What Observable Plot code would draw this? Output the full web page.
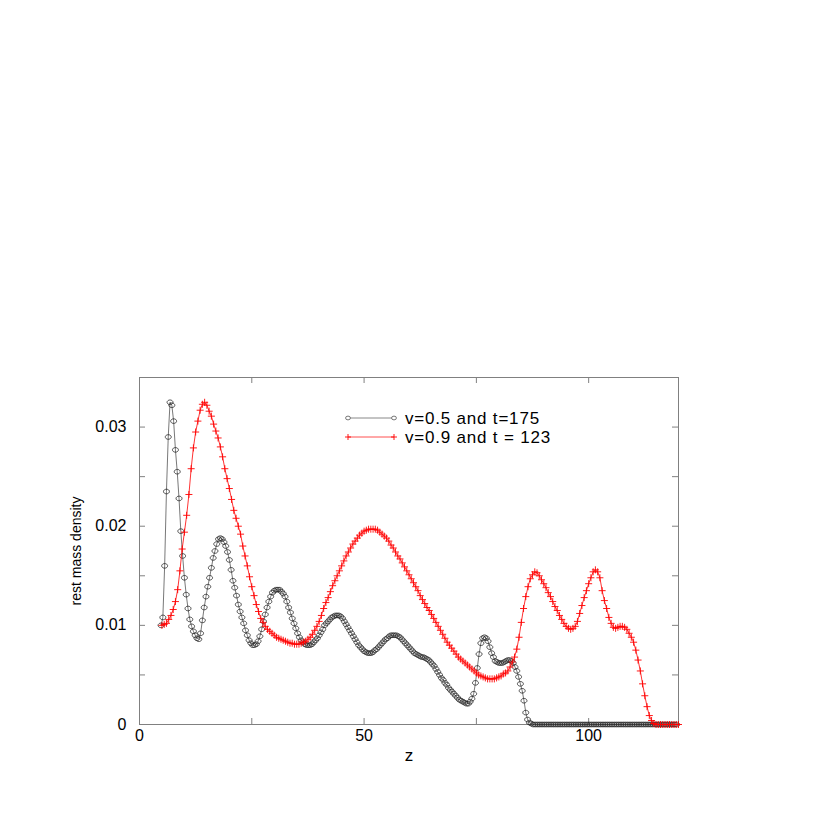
<!DOCTYPE html>
<html><head><meta charset="utf-8">
<script src="https://cdn.jsdelivr.net/npm/d3@7"></script>
<script src="https://cdn.jsdelivr.net/npm/@observablehq/plot@0.6"></script>
<style>body{margin:0;background:#fff}</style>
</head><body><div id="chart"></div>
<script>
// Series A: v=0.5, t=175  (sampled from z = 4.8 in steps of 0.4)
const zStartA = 4.8, zStepA = 0.4;
const rhoA = [
 .0100,.0108,.0160,.0235,.0290,.0325,.0322,.0306,.0277,.0255,
 .0228,.0195,.0170,.0148,.0131,.0117,.0106,.0099,.0094,.0090,
 .0087,.0086,.0092,.0105,.0118,.0129,.0139,.0148,.0158,.0168,
 .0175,.0182,.0187,.0188,.0187,.0184,.0180,.0174,.0166,.0156,
 .0145,.0138,.0130,.0121,.0114,.0108,.0102,.0095,.0090,.0085,
 .0082,.0080,.0080,.0081,.0084,.0089,.0096,.0104,.0111,.0118,
 .0124,.0129,.0133,.0135,.0136,.0136,.0136,.0134,.0132,.0129,
 .0124,.0118,.0113,.0107,.0102,.0097,.0092,.0088,.0085,.0083,
 .0081,.0080,.0080,.0080,.0081,.0083,.0085,.0087,.0090,.0093,
 .0096,.0100,.0102,.0104,.0106,.0108,.0109,.0110,.0110,.0110,
 .0109,.0107,.0104,.0101,.0098,.0095,.0092,.0089,.0086,.0083,
 .0080,.0078,.0076,.0074,.0073,.0072,.0072,.0072,.0073,.0075,
 .0076,.0078,.0080,.0082,.0084,.0086,.0087,.0089,.0090,.0090,
 .0090,.0090,.0089,.0088,.0086,.0084,.0082,.0080,.0078,.0076,
 .0074,.0072,.0071,.0070,.0069,.0068,.0068,.0067,.0066,.0065,
 .0063,.0061,.0059,.0056,.0053,.0050,.0047,.0045,.0042,.0040,
 .0037,.0035,.0033,.0031,.0029,.0027,.0025,.0024,.0023,.0022,
 .0021,.0021,.0023,.0026,.0031,.0042,.0057,.0071,.0082,.0087,
 .0088,.0087,.0084,.0078,.0072,.0068,.0064,.0063,.0062,.0062,
 .0062,.0063,.0064,.0065,.0065,.0064,.0062,.0058,.0054,.0048,
 .0041,.0034,.0024,.0012,.0005,.0002,.0001,0,0,0,
 0,0,0,0,0,0,0,0,0,0,
 0,0,0,0,0,0,0,0,0,0,
 0,0,0,0,0,0,0,0,0,0,
 0,0,0,0,0,0,0,0,0,0,
 0,0,0,0,0,0,0,0,0,0,
 0,0,0,0,0,0,0,0,0,0,
 0,0,0,0,0,0,0,0,0,0,
 0,0,0,0,0,0,0,0
];
// Series B: v=0.9, t=123  (sampled from z = 5.0 in steps of 0.5)
const zStartB = 5.0, zStepB = 0.5;
const rhoB = [
 .0100,.0101,.0102,.0106,.0110,.0116,.0124,.0136,.0155,.0177,
 .0194,.0211,.0232,.0258,.0279,.0295,.0306,.0317,.0323,.0325,
 .0322,.0316,.0311,.0303,.0296,.0289,.0280,.0270,.0258,.0248,
 .0238,.0227,.0216,.0208,.0200,.0192,.0180,.0170,.0160,.0149,
 .0139,.0130,.0121,.0114,.0107,.0103,.0099,.0096,.0094,.0092,
 .0090,.0088,.0087,.0086,.0085,.0084,.0083,.0082,.0082,.0081,
 .0081,.0081,.0082,.0083,.0084,.0086,.0088,.0091,.0095,.0099,
 .0104,.0110,.0117,.0123,.0128,.0134,.0140,.0145,.0150,.0155,
 .0160,.0165,.0170,.0174,.0178,.0182,.0185,.0188,.0191,.0193,
 .0195,.0196,.0197,.0197,.0197,.0197,.0196,.0194,.0192,.0190,
 .0188,.0185,.0181,.0178,.0174,.0170,.0167,.0163,.0159,.0155,
 .0151,.0147,.0143,.0139,.0135,.0130,.0126,.0122,.0118,.0115,
 .0111,.0107,.0103,.0099,.0095,.0091,.0087,.0083,.0080,.0077,
 .0074,.0071,.0068,.0066,.0064,.0062,.0060,.0058,.0056,.0054,
 .0052,.0050,.0049,.0048,.0047,.0046,.0046,.0046,.0046,.0047,
 .0048,.0049,.0051,.0052,.0054,.0058,.0063,.0068,.0076,.0088,
 .0103,.0117,.0129,.0139,.0147,.0151,.0154,.0153,.0150,.0146,
 .0142,.0138,.0133,.0129,.0124,.0119,.0115,.0110,.0106,.0102,
 .0099,.0097,.0096,.0097,.0099,.0104,.0112,.0120,.0128,.0135,
 .0142,.0148,.0154,.0156,.0154,.0148,.0135,.0125,.0117,.0108,
 .0102,.0098,.0097,.0098,.0099,.0099,.0098,.0096,.0092,.0088,
 .0083,.0075,.0065,.0054,.0041,.0029,.0018,.0009,.0004,.0001,
 0,0,0,0,0,0,0,0,0,0,
 0
];
const seriesLabels = ["v=0.5 and t=175", "v=0.9 and t = 123"];
const xDomain = [0, 120];
const yDomain = [0, 0.035];
const xTicks = [0, 50, 100];
const xMinorTicks = [0, 25, 50, 75, 100];
const yTicks = [0, 0.01, 0.02, 0.03];
const yMinorTicks = [0, 0.005, 0.01, 0.015, 0.02, 0.025, 0.03];
const xLabel = "z";
const yLabel = "rest mass density";

const dataA = rhoA.map((v, i) => ({z: +(zStartA + i * zStepA).toFixed(2), rho: v}));
const dataB = rhoB.map((v, i) => ({z: +(zStartB + i * zStepB).toFixed(2), rho: v}));

const W = 817, H = 817, mL = 139, mR = 139, mT = 377, mB = 93;
const fw = W - mL - mR, fh = H - mT - mB;
const axisColor = "#808080";
const font = "'Liberation Sans', Arial, Helvetica, sans-serif";

// hollow ellipse marker (gnuplot-like circle)
const ellipse = {
  draw(ctx, size) {
    const r = Math.sqrt(size / Math.PI), n = 24;
    for (let i = 0; i <= n; i++) {
      const a = 2 * Math.PI * i / n, x = 1.1 * r * Math.cos(a), y = 0.85 * r * Math.sin(a);
      if (i === 0) ctx.moveTo(x, y); else ctx.lineTo(x, y);
    }
    ctx.closePath();
  }
};

const plot = Plot.plot({
  width: W, height: H,
  marginLeft: mL, marginRight: mR, marginTop: mT, marginBottom: mB,
  x: {domain: xDomain},
  y: {domain: yDomain},
  style: {fontFamily: font, fontSize: "16px", color: "#000", background: "#fff"},
  marks: [
    Plot.frame({stroke: axisColor, strokeWidth: 1}),
    Plot.tickX(xMinorTicks, {x: d => d, insetTop: fh - 6, stroke: axisColor}),
    Plot.tickX(xMinorTicks, {x: d => d, insetBottom: fh - 6, stroke: axisColor}),
    Plot.tickY(yMinorTicks, {y: d => d, insetRight: fw - 6, stroke: axisColor}),
    Plot.tickY(yMinorTicks, {y: d => d, insetLeft: fw - 6, stroke: axisColor}),
    Plot.axisX({ticks: xTicks, tickSize: 0, tickPadding: 5, label: null, tickFormat: d => String(d), fontSize: 16, letterSpacing: "1.5px"}),
    Plot.axisY({ticks: yTicks, tickSize: 0, tickPadding: 13, label: null, tickFormat: d => d === 0 ? "0" : d.toFixed(2), fontSize: 16, letterSpacing: "1.5px"}),
    Plot.text([xLabel], {frameAnchor: "bottom", dy: 36, fontSize: 17}),
    Plot.text([yLabel], {frameAnchor: "left", dx: -63, rotate: -90, textAnchor: "middle", fontSize: 14}),
    Plot.line(dataA, {x: "z", y: "rho", stroke: "#555", strokeWidth: 0.8}),
    Plot.dot(dataA, {x: "z", y: "rho", symbol: ellipse, r: 2.7, stroke: "#222", strokeWidth: 0.8, fill: "none"}),
    Plot.line(dataB, {x: "z", y: "rho", stroke: "#ff0000", strokeWidth: 0.8}),
    Plot.dot(dataB, {x: "z", y: "rho", symbol: "plus", r: 2.4, stroke: "#ff0000", strokeWidth: 0.9})
  ]
});
document.getElementById("chart").appendChild(plot);

// in-frame legend
const svg = d3.select(plot);
const lg = svg.append("g").attr("transform", `translate(${mL + 209},${mT + 41})`)
  .attr("text-anchor", "start")
  .style("font-family", font).style("font-size", "17px").style("letter-spacing", "0.8px");
const rows = [
  {label: seriesLabels[0], line: "#888", mark: "circle", color: "#555"},
  {label: seriesLabels[1], line: "#ff5050", mark: "plus", color: "#ff0000"}
];
rows.forEach((r, i) => {
  const g = lg.append("g").attr("transform", `translate(0,${i * 19})`);
  g.append("line").attr("x1", 0).attr("x2", 46).attr("y1", 0).attr("y2", 0).attr("stroke", r.line).attr("stroke-width", 1);
  [0, 46].forEach(x => {
    if (r.mark === "circle") {
      g.append("ellipse").attr("cx", x).attr("cy", 0).attr("rx", 2.4).attr("ry", 1.9).attr("fill", "#fff").attr("stroke", r.color).attr("stroke-width", 0.8);
    } else {
      g.append("path").attr("d", `M${x - 3},0H${x + 3}M${x},-3V3`).attr("stroke", r.color).attr("stroke-width", 0.9);
    }
  });
  g.append("text").attr("x", 57).attr("y", 0).attr("dy", "0.36em").attr("text-anchor", "start").text(r.label);
});
</script>
</body></html>
